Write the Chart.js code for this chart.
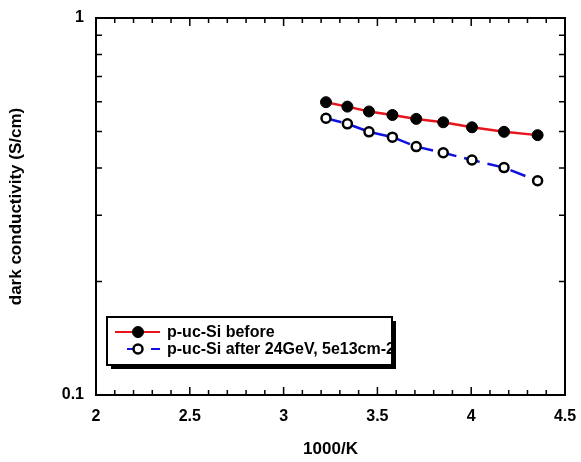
<!DOCTYPE html>
<html>
<head>
<meta charset="utf-8">
<script src="https://cdn.jsdelivr.net/npm/chart.js@4.4.0/dist/chart.umd.min.js"></script>
<style>
  html, body { margin: 0; padding: 0; background: #fff; }
</style>
</head>
<body>
<canvas id="chart" width="581" height="462"></canvas>
<script>
// 1000/K for each measurement
const invTemp = [3.226, 3.34, 3.455, 3.58, 3.707, 3.851, 4.004, 4.175, 4.354];
// dark conductivity (S/cm)
const before = [0.598, 0.582, 0.565, 0.553, 0.540, 0.529, 0.513, 0.499, 0.489];
const after = [0.542, 0.524, 0.499, 0.483, 0.456, 0.439, 0.420, 0.401, 0.370];

const seriesLabels = ['p-uc-Si before', 'p-uc-Si after 24GeV, 5e13cm-2'];
const xTicks = [2, 2.5, 3, 3.5, 4, 4.5];
const yTicks = [0.1, 1];

const font = 'Liberation Sans, Arial, sans-serif';
Chart.defaults.font.family = font;
Chart.defaults.color = '#000';

const toPoints = (xs, ys) => xs.map((x, i) => ({ x, y: ys[i] }));

// frame, inward ticks and boxed legend like the original plot
const frame = {
  id: 'frame',
  afterDatasetsDraw(chart) {
    const { ctx, chartArea: a, scales: { x, y } } = chart;
    ctx.save();
    ctx.strokeStyle = '#000';
    ctx.lineWidth = 2;
    ctx.strokeRect(a.left, a.top, a.right - a.left, a.bottom - a.top);

    ctx.lineWidth = 1.5;
    ctx.beginPath();
    for (let i = 0; i <= 25; i++) {
      const px = x.getPixelForValue(2 + i * 0.1);
      const len = i % 5 === 0 ? 8 : 5;
      ctx.moveTo(px, a.bottom); ctx.lineTo(px, a.bottom - len);
      ctx.moveTo(px, a.top); ctx.lineTo(px, a.top + len);
    }
    for (let i = 2; i <= 9; i++) {
      const py = y.getPixelForValue(i / 10);
      ctx.moveTo(a.left, py); ctx.lineTo(a.left + 6, py);
      ctx.moveTo(a.right, py); ctx.lineTo(a.right - 6, py);
    }
    ctx.stroke();

    // legend box with drop shadow
    const bx = a.left + 11, by = a.bottom - 78, bw = 285, bh = 48;
    ctx.fillStyle = '#000';
    ctx.fillRect(bx + 4, by + 4, bw, bh);
    ctx.fillStyle = '#fff';
    ctx.fillRect(bx, by, bw, bh);
    ctx.lineWidth = 2;
    ctx.strokeRect(bx, by, bw, bh);

    const ds = chart.data.datasets;
    ds.forEach((d, i) => {
      const ly = by + 15 + i * 17;
      ctx.strokeStyle = d.borderColor;
      ctx.lineWidth = 2;
      ctx.setLineDash(d.borderDash || []);
      ctx.beginPath();
      ctx.moveTo(bx + (i === 0 ? 8 : 20), ly);
      ctx.lineTo(bx + 53, ly);
      ctx.stroke();
      ctx.setLineDash([]);
      ctx.beginPath();
      ctx.arc(bx + 31, ly, d.pointRadius, 0, Math.PI * 2);
      ctx.fillStyle = d.pointBackgroundColor;
      ctx.fill();
      ctx.lineWidth = d.pointBorderWidth;
      ctx.strokeStyle = '#000';
      ctx.stroke();
      ctx.fillStyle = '#000';
      ctx.font = 'bold 16px ' + font;
      ctx.textBaseline = 'middle';
      ctx.fillText(d.label, bx + 60, ly + 1);
    });
    ctx.restore();
  }
};

new Chart(document.getElementById('chart'), {
  type: 'scatter',
  data: {
    datasets: [
      {
        label: seriesLabels[0],
        data: toPoints(invTemp, before),
        showLine: true,
        borderColor: '#e8141c',
        borderWidth: 2.5,
        pointRadius: 5.5,
        pointBackgroundColor: '#000',
        pointBorderColor: '#000',
        pointBorderWidth: 1,
      },
      {
        label: seriesLabels[1],
        data: toPoints(invTemp, after),
        showLine: true,
        borderColor: '#1010e0',
        borderWidth: 2.5,
        borderDash: [16, 8],
        pointRadius: 4.5,
        pointBackgroundColor: '#fff',
        pointBorderColor: '#000',
        pointBorderWidth: 2.5,
      },
    ],
  },
  options: {
    responsive: false,
    animation: false,
    layout: { padding: { top: 18, right: 16, left: 0, bottom: 0 } },
    plugins: {
      legend: { display: false },
      tooltip: { enabled: false },
    },
    scales: {
      x: {
        type: 'linear',
        min: 2,
        max: 4.5,
        afterBuildTicks: (s) => { s.ticks = xTicks.map((v) => ({ value: v })); },
        afterFit: (s) => { s.height = 67; },
        grid: { display: false },
        border: { display: false },
        ticks: {
          font: { size: 16, weight: 'bold' },
          padding: 4,
          maxRotation: 0,
          callback: (v) => String(v),
        },
        title: {
          display: true,
          text: '1000/K',
          font: { size: 17, weight: 'bold' },
          padding: { top: 0, bottom: 2 },
        },
      },
      y: {
        type: 'logarithmic',
        min: 0.1,
        max: 1,
        afterBuildTicks: (s) => { s.ticks = yTicks.map((v) => ({ value: v })); },
        afterFit: (s) => { s.width = 96; },
        grid: { display: false },
        border: { display: false },
        ticks: {
          font: { size: 16, weight: 'bold' },
          padding: 4,
          callback: (v) => String(v),
        },
        title: {
          display: true,
          text: 'dark conductivity (S/cm)',
          font: { size: 17, weight: 'bold' },
          padding: { top: 6, bottom: 0 },
        },
      },
    },
  },
  plugins: [frame],
});
</script>
</body>
</html>
